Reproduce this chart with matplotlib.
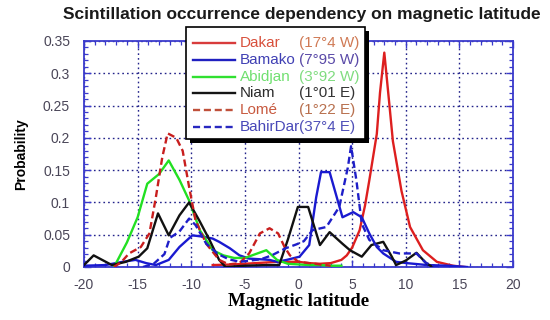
import matplotlib
matplotlib.use("Agg")
import matplotlib.pyplot as plt
from matplotlib.lines import Line2D
from matplotlib.patches import Rectangle
from matplotlib.ticker import MultipleLocator, FixedLocator, FixedFormatter

# Scintillation occurrence probability versus magnetic latitude, per station
dakar_x = [-8, -6, -4, -2, 0, 1, 2, 3, 4, 4.5, 5.0, 5.7, 6.2, 6.6, 7.3, 7.6, 8.0,
           8.5, 8.8, 9.6, 10.4, 11.6, 12.9, 14.4, 15.5]
dakar_y = [0.003, 0.004, 0.006, 0.008, 0.008, 0.006, 0.005, 0.006, 0.011, 0.018, 0.03,
           0.057, 0.095, 0.134, 0.206, 0.27, 0.332, 0.247, 0.195, 0.118, 0.062, 0.026,
           0.008, 0.002, 0.0]

bamako_x = [-20, -18, -16.4, -15.2, -14.2, -13.3, -12.1, -11.1, -9.9, -8.9, -8.0, -7.4,
            -6.4, -5.5, -4.6, -3.6, -2.7, -2.0, -1.1, 0.1, 1.0, 1.65, 2.1, 2.9, 4.1, 5.1,
            5.9, 6.6, 7.3, 7.9, 9.1, 10.1, 12, 14, 15.7]
bamako_y = [0.002, 0.003, 0.008, 0.011, 0.006, 0.003, 0.011, 0.031, 0.049, 0.047, 0.044,
            0.039, 0.029, 0.018, 0.013, 0.012, 0.011, 0.008, 0.011, 0.016, 0.034, 0.108,
            0.147, 0.147, 0.077, 0.085, 0.077, 0.052, 0.031, 0.021, 0.008, 0.006, 0.003,
            0.002, 0.0]

abidjan_x = [-17.2, -16, -15, -14.1, -13, -12.1, -11.1, -10.2, -9.2, -8, -7, -6, -5, -4,
             -3.0, -2.0, -1.0, 0, 1, 2, 3, 4]
abidjan_y = [0.0, 0.038, 0.077, 0.129, 0.144, 0.165, 0.135, 0.103, 0.057, 0.026, 0.018,
             0.014, 0.014, 0.02, 0.026, 0.011, 0.005, 0.004, 0.003, 0.003, 0.002, 0.002]

niam_x = [-20, -19.1, -17.4, -16.1, -14.9, -14.1, -13.1, -12.1, -11.1, -10.2, -9.25,
          -8.3, -7.4, -6.8, -5, -3, -1.8, -1.0, -0.06, 0.9, 2.0, 2.9, 4.1, 4.8, 5.9,
          6.8, 7.9, 8.7, 9.1, 10, 11.0, 11.9, 12.5]
niam_y = [0.003, 0.018, 0.003, 0.008, 0.016, 0.029, 0.083, 0.049, 0.08, 0.10, 0.072,
          0.042, 0.011, 0.0, 0.002, 0.003, 0.003, 0.042, 0.093, 0.093, 0.034, 0.054,
          0.036, 0.026, 0.016, 0.034, 0.039, 0.016, 0.003, 0.01, 0.022, 0.006, 0.0]

lome_x = [-17.2, -16.5, -15.8, -14.7, -13.9, -13.3, -12.7, -12.2, -11.4, -10.8, -10.2,
          -9.6, -8.6, -7.4, -6.5, -5.5, -4.6, -3.6, -2.7, -1.9, -1.3, -0.8, 0, 1, 2, 3]
lome_y = [0.0, 0.008, 0.021, 0.031, 0.052, 0.108, 0.17, 0.207, 0.2, 0.18, 0.124, 0.072,
          0.036, 0.011, 0.004, 0.006, 0.021, 0.052, 0.06, 0.052, 0.031, 0.018, 0.008,
          0.006, 0.004, 0.002]

bahirdar_x = [-14.5, -13.5, -12.5, -12.0, -11.1, -10.2, -9.6, -8.6, -7.5, -6.5, -5.5,
              -4.5, -3.5, -2.5, -1.2, -0.2, 0.5, 1.3, 2.6, 3.8, 4.6, 4.9, 5.4, 5.9, 6.6,
              7.9, 9.4, 11.0, 11.9, 13]
bahirdar_y = [0.0, 0.005, 0.02, 0.045, 0.055, 0.075, 0.065, 0.036, 0.02, 0.012, 0.008,
              0.01, 0.012, 0.018, 0.029, 0.035, 0.04, 0.057, 0.062, 0.093, 0.154, 0.187,
              0.134, 0.067, 0.042, 0.026, 0.021, 0.021, 0.006, 0.0]

station_names = ["Dakar", "Bamako", "Abidjan", "Niam", "Lomé", "BahirDar"]
station_coords = ["(17°4 W)", "(7°95 W)", "(3°92 W)", "(1°01 E)", "(1°22 E)", "(37°4 E)"]

x_ticks = [-20, -15, -10, -5, 0, 5, 10, 15, 20]
y_ticks = [0, 0.05, 0.1, 0.15, 0.2, 0.25, 0.3, 0.35]
y_tick_labels = ["0", "0.05", "0.1", "0.15", "0.2", "0.25", "0.3", "0.35"]

dash = (0, (3, 1.6))
series = [
    (dakar_x, dakar_y, "#dd1f1f", "-"),
    (bamako_x, bamako_y, "#1a1ad0", "-"),
    (abidjan_x, abidjan_y, "#22e022", "-"),
    (niam_x, niam_y, "#111111", "-"),
    (lome_x, lome_y, "#c81e1e", dash),
    (bahirdar_x, bahirdar_y, "#1e1ec8", dash),
]
handle_colors = ["#d83c3c", "#2020c0", "#30e030", "#151515", "#c0503a", "#2828c0"]
name_colors = ["#d8503c", "#4040b4", "#70e070", "#2a2a2a", "#c85a40", "#4848b8"]
coord_colors = ["#d07a55", "#5a4aa8", "#80dc80", "#333333", "#b8704e", "#5050b8"]

plt.rcParams["font.family"] = ["Liberation Sans", "DejaVu Sans"]
plt.rcParams["axes.unicode_minus"] = False

W, H = 550, 320
fig = plt.figure(figsize=(W / 100, H / 100), dpi=100)
ax = fig.add_axes([84 / W, 1 - 267 / H, (513 - 84) / W, (267 - 41) / H])

draw_order = [2, 4, 0, 1, 5, 3]
for i in draw_order:
    xs, ys, c, ls = series[i]
    ax.plot(xs, ys, color=c, linestyle=ls, linewidth=1.7, zorder=3 + i * 0.1)

ax.set_xlim(-20, 20)
ax.set_ylim(0, 0.35)
ax.xaxis.set_major_locator(FixedLocator(x_ticks))
ax.yaxis.set_major_locator(FixedLocator(y_ticks))
ax.yaxis.set_major_formatter(FixedFormatter(y_tick_labels))
ax.xaxis.set_minor_locator(MultipleLocator(1))
ax.yaxis.set_minor_locator(MultipleLocator(0.01))

axis_blue = "#3a3acc"
for s in ax.spines.values():
    s.set_color(axis_blue)
    s.set_linewidth(1.3)
ax.tick_params(which="both", direction="in", top=True, right=True, color=axis_blue,
               labelsize=10, labelcolor="#4a4658")
ax.tick_params(which="major", length=5, width=1.0)
ax.tick_params(axis="x", which="major", pad=8)
ax.tick_params(axis="y", which="major", pad=10)
ax.tick_params(which="minor", length=3, width=0.9)
ax.grid(True, which="major", color="#23238a", linestyle=(0, (1.2, 2.2)), linewidth=1.0)
ax.set_axisbelow(True)

ax.set_xlabel("Magnetic latitude", family=["Liberation Serif"], fontweight="bold",
              fontsize=13.5, labelpad=1)
ax.set_ylabel("Probability", fontweight="bold", fontsize=10, labelpad=11)
fig.text(302 / W, 1 - 15 / H, "Scintillation occurrence dependency on magnetic latitude",
         ha="center", va="center", fontsize=12.5, fontweight="bold", color="#1a1a1a")


def fx(px):
    return px / W


def fy(py):
    return 1 - py / H


# Legend box with a solid drop shadow
box_l, box_r, box_t, box_b = 186, 365, 27, 139
fig.add_artist(Rectangle((fx(box_l + 4), fy(box_b + 4)), (box_r - box_l) / W,
                         (box_b - box_t) / H, transform=fig.transFigure,
                         facecolor="black", edgecolor="none", zorder=8))
fig.add_artist(Rectangle((fx(box_l), fy(box_b)), (box_r - box_l) / W,
                         (box_b - box_t) / H, transform=fig.transFigure,
                         facecolor="white", edgecolor="black", linewidth=1.2, zorder=9))

row_y0, row_step = 42.7, 16.9
for i, (name, coord) in enumerate(zip(station_names, station_coords)):
    py = row_y0 + row_step * i
    ls = series[i][3]
    fig.add_artist(Line2D([fx(193), fx(235)], [fy(py), fy(py)], transform=fig.transFigure,
                          color=handle_colors[i], linestyle=ls, linewidth=1.7, zorder=10))
    fig.text(fx(240), fy(py), name, ha="left", va="center", fontsize=11,
             color=name_colors[i], zorder=11)
    fig.text(fx(299), fy(py), coord, ha="left", va="center", fontsize=11,
             color=coord_colors[i], zorder=11)

fig.savefig("out.png", dpi=100)
